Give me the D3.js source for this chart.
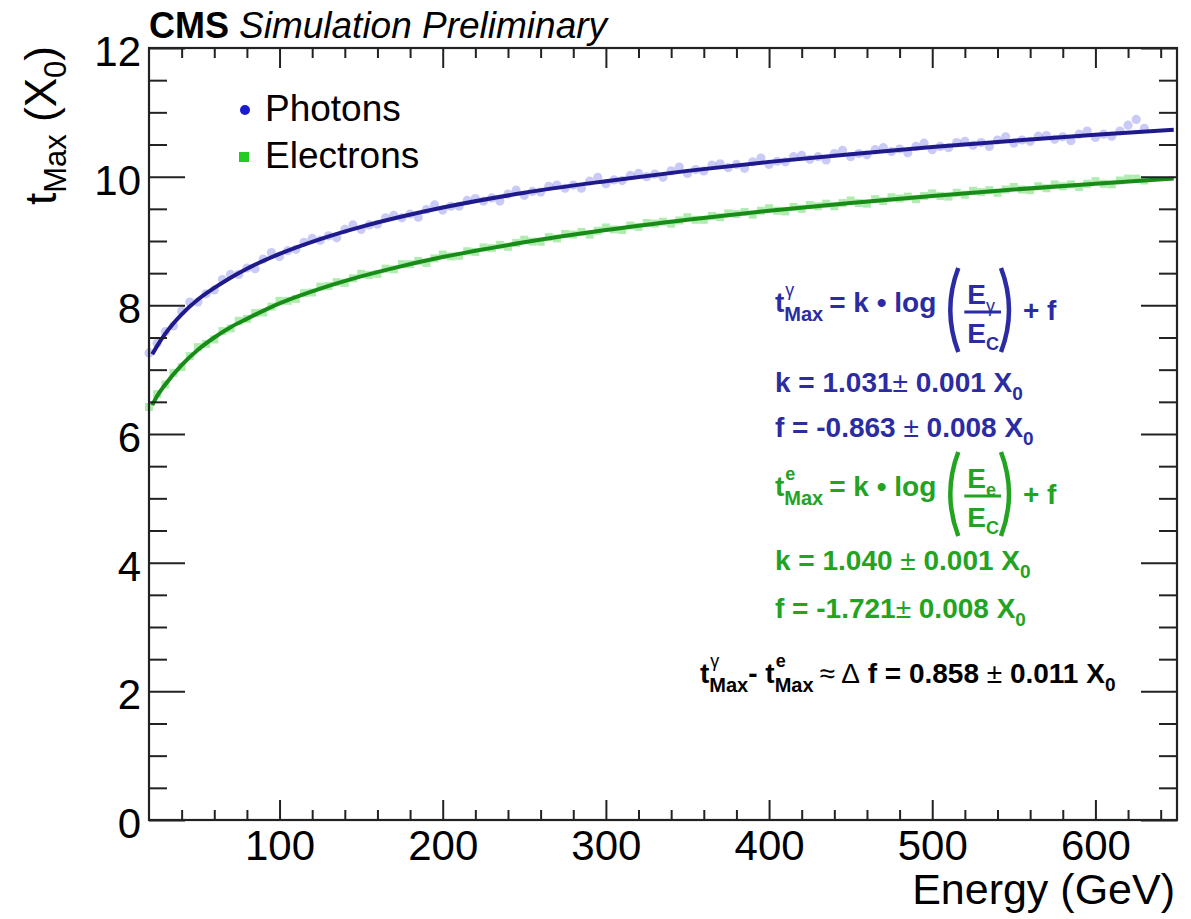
<!DOCTYPE html>
<html>
<head>
<meta charset="utf-8">
<script src="https://cdn.jsdelivr.net/npm/d3@7"></script>
<style>
  body { margin: 0; background: #fff; }
  text { font-family: "Liberation Sans", Arial, Helvetica, sans-serif; white-space: pre; }
</style>
</head>
<body>
<script>
var W = 1191, H = 919;

// Energies of the simulated points (GeV)
var energies = [20,25,30,35,40,45,50,55,60,65,70,75,80,85,90,95,100,105,110,115,
  120,125,130,135,140,145,150,155,160,165,170,175,180,185,190,195,200,205,210,215,
  220,225,230,235,240,245,250,255,260,265,270,275,280,285,290,295,300,305,310,315,
  320,325,330,335,340,345,350,355,360,365,370,375,380,385,390,395,400,405,410,415,
  420,425,430,435,440,445,450,455,460,465,470,475,480,485,490,495,500,505,510,515,
  520,525,530,535,540,545,550,555,560,565,570,575,580,585,590,595,600,605,610,615,
  620,625,630];

// tMax of photons (X0)
var photonPts = [7.26,7.41,7.59,7.68,7.91,8.05,8.05,8.18,8.24,8.40,8.48,8.48,8.58,8.57,8.72,8.82,8.76,8.85,8.87,8.98,
  9.04,9.01,9.08,9.05,9.18,9.25,9.18,9.25,9.26,9.36,9.40,9.36,9.42,9.37,9.49,9.56,9.48,9.54,9.54,9.63,
  9.66,9.62,9.67,9.62,9.73,9.79,9.71,9.77,9.76,9.85,9.87,9.82,9.87,9.82,9.93,9.99,9.89,9.95,9.94,10.02,
  10.05,10.00,10.04,9.99,10.09,10.15,10.05,10.11,10.09,10.18,10.20,10.14,10.19,10.13,10.23,10.29,10.19,10.24,10.23,10.31,
  10.33,10.27,10.31,10.26,10.36,10.41,10.31,10.36,10.34,10.42,10.45,10.39,10.43,10.37,10.47,10.52,10.42,10.47,10.45,10.53,
  10.55,10.49,10.53,10.47,10.57,10.62,10.52,10.57,10.55,10.63,10.64,10.58,10.62,10.56,10.66,10.71,10.61,10.66,10.63,10.71,
  10.80,10.89,10.75];

// tMax of electrons (X0)
var electronPts = [6.42,6.62,6.77,6.95,7.04,7.21,7.35,7.40,7.47,7.60,7.64,7.76,7.79,7.88,7.89,7.98,8.07,8.07,8.10,8.19,
  8.20,8.29,8.30,8.36,8.35,8.42,8.49,8.47,8.49,8.57,8.56,8.64,8.64,8.69,8.66,8.73,8.79,8.76,8.77,8.84,
  8.83,8.90,8.89,8.94,8.91,8.97,9.02,8.99,8.99,9.06,9.04,9.11,9.10,9.14,9.10,9.16,9.21,9.18,9.17,9.24,
  9.22,9.28,9.27,9.30,9.27,9.32,9.37,9.33,9.33,9.39,9.37,9.43,9.42,9.45,9.41,9.47,9.51,9.47,9.46,9.53,
  9.50,9.56,9.54,9.58,9.54,9.59,9.63,9.59,9.58,9.65,9.62,9.68,9.66,9.69,9.65,9.70,9.74,9.70,9.69,9.75,
  9.72,9.78,9.76,9.79,9.75,9.80,9.84,9.80,9.79,9.85,9.82,9.88,9.85,9.88,9.84,9.89,9.93,9.89,9.88,9.94,
  9.97,9.97,9.94];

// Fit curves, sampled along the drawn lines
var fitEnergies = [22,25,30,40,50,60,70,80,100,125,150,175,200,250,300,350,400,450,500,550,600,648];
var photonFit = [7.24,7.37,7.56,7.86,8.09,8.27,8.43,8.57,8.80,9.03,9.22,9.38,9.52,9.75,9.93,10.09,10.23,10.35,10.46,10.56,10.65,10.73];
var electronFit = [6.45,6.59,6.77,7.07,7.31,7.50,7.66,7.79,8.03,8.26,8.45,8.61,8.75,8.98,9.17,9.33,9.47,9.59,9.70,9.80,9.89,9.97];

// Axis ticks
var xMajor = [100,200,300,400,500,600];
var xMinor = [40,60,80,120,140,160,180,220,240,260,280,320,340,360,380,420,440,460,480,520,540,560,580,620,640];
var yMajor = [0,2,4,6,8,10,12];
var yMinor = [0.5,1,1.5,2.5,3,3.5,4.5,5,5.5,6.5,7,7.5,8.5,9,9.5,10.5,11,11.5];

var padL = 149, padR = 1177, padT = 48, padB = 820;

var svg = d3.select("body").append("svg")
  .attr("width", W)
  .attr("height", H);

var x = d3.scaleLinear().domain([20, 650]).range([padL, padR]);
var y = d3.scaleLinear().domain([0, 12]).range([padB, padT]);

// Points
var photonColor = "#7b7be8", electronColor = "#4fd24f";

svg.append("g").selectAll("circle")
  .data(energies)
  .enter()
  .append("circle")
    .attr("cx", function(d) { return x(d); })
    .attr("cy", function(d, i) { return y(photonPts[i]); })
    .attr("r", 4.6)
    .attr("fill", photonColor)
    .attr("opacity", 0.4);

svg.append("g").selectAll("rect")
  .data(energies)
  .enter()
  .append("rect")
    .attr("x", function(d) { return x(d) - 4; })
    .attr("y", function(d, i) { return y(electronPts[i]) - 4; })
    .attr("width", 8)
    .attr("height", 8)
    .attr("fill", electronColor)
    .attr("opacity", 0.45);

// Fit lines
var line = function(vals) {
  return d3.line()
    .x(function(d) { return x(d); })
    .y(function(d, i) { return y(vals[i]); })
    .curve(d3.curveMonotoneX)(fitEnergies);
};
svg.append("path").attr("d", line(photonFit))
  .attr("fill", "none").attr("stroke", "#1e1a8c").attr("stroke-width", 4);
svg.append("path").attr("d", line(electronFit))
  .attr("fill", "none").attr("stroke", "#178c17").attr("stroke-width", 4);

// Axes (ticks pointing inside the frame)
var tickStyle = function(g) {
  g.select(".domain").remove();
  g.selectAll(".tick line").attr("stroke", "#222").attr("stroke-width", 2);
  g.selectAll(".tick text").attr("fill", "#000")
    .style("font-family", "'Liberation Sans', Arial, sans-serif").attr("font-size", 42);
};

svg.append("g").attr("transform", "translate(0," + padB + ")")
  .call(d3.axisBottom(x).tickValues(xMajor).tickSizeInner(-20).tickSizeOuter(0).tickPadding(10))
  .call(tickStyle);
svg.append("g").attr("transform", "translate(0," + padB + ")")
  .call(d3.axisBottom(x).tickValues(xMinor).tickSizeInner(-10).tickSizeOuter(0).tickFormat(""))
  .call(tickStyle);
svg.append("g").attr("transform", "translate(0," + padT + ")")
  .call(d3.axisTop(x).tickValues(xMajor).tickSizeInner(-20).tickSizeOuter(0).tickFormat(""))
  .call(tickStyle);
svg.append("g").attr("transform", "translate(0," + padT + ")")
  .call(d3.axisTop(x).tickValues(xMinor).tickSizeInner(-10).tickSizeOuter(0).tickFormat(""))
  .call(tickStyle);

svg.append("g").attr("transform", "translate(" + padL + ",0)")
  .call(d3.axisLeft(y).tickValues(yMajor).tickSizeInner(-36).tickSizeOuter(0).tickPadding(8).tickFormat(d3.format("d")))
  .call(tickStyle)
  .selectAll(".tick text").attr("dy", "0.42em");
svg.append("g").attr("transform", "translate(" + padL + ",0)")
  .call(d3.axisLeft(y).tickValues(yMinor).tickSizeInner(-18).tickSizeOuter(0).tickFormat(""))
  .call(tickStyle);
svg.append("g").attr("transform", "translate(" + padR + ",0)")
  .call(d3.axisRight(y).tickValues(yMajor).tickSizeInner(-36).tickSizeOuter(0).tickFormat(""))
  .call(tickStyle);
svg.append("g").attr("transform", "translate(" + padR + ",0)")
  .call(d3.axisRight(y).tickValues(yMinor).tickSizeInner(-18).tickSizeOuter(0).tickFormat(""))
  .call(tickStyle);

// Frame
svg.append("rect")
  .attr("x", padL).attr("y", padT)
  .attr("width", padR - padL).attr("height", padB - padT)
  .attr("fill", "none").attr("stroke", "#222").attr("stroke-width", 2.2);

// Axis titles
svg.append("text")
  .attr("x", padR - 2).attr("y", 904)
  .attr("text-anchor", "end").attr("font-size", 43)
  .text("Energy (GeV)");

var yt = svg.append("text")
  .attr("transform", "translate(56," + (padT - 2) + ") rotate(-90)")
  .attr("text-anchor", "end").attr("font-size", 44);
yt.append("tspan").text("t");
yt.append("tspan").attr("font-size", 31).attr("dy", 10).text("Max");
yt.append("tspan").attr("dy", -10).text(" (X");
yt.append("tspan").attr("font-size", 31).attr("dy", 10).text("0");
yt.append("tspan").attr("dy", -10).text(")");

// Header
var hd = svg.append("text").attr("x", padL).attr("y", 38).attr("font-size", 37);
hd.append("tspan").attr("font-weight", "bold").attr("font-size", 36).text("CMS ");
hd.append("tspan").attr("font-style", "italic").text("Simulation Preliminary");

// Legend
svg.append("circle").attr("cx", 245).attr("cy", 110).attr("r", 5).attr("fill", "#1a1ad0");
svg.append("text").attr("x", 265).attr("y", 121).attr("font-size", 37).text("Photons");
svg.append("rect").attr("x", 239).attr("y", 152).attr("width", 10).attr("height", 10).attr("fill", "#22cc22");
svg.append("text").attr("x", 265).attr("y", 168).attr("font-size", 37).text("Electrons");

// Formula helpers
function piece(px, py, s, size, color, weight) {
  var t = svg.append("text")
    .attr("x", px).attr("y", py)
    .attr("font-size", size)
    .attr("font-weight", weight || "bold")
    .attr("fill", color)
    .text(s);
  return px + t.node().getComputedTextLength();
}

function tMax(px, py, sup, color) {
  var x1 = piece(px, py, "t", 28, color);
  var a = piece(x1 + 1, py - 16, sup, 18, color, sup == "e" ? "bold" : "normal");
  var b = piece(x1, py + 9, "Max", 20, color);
  return Math.max(a, b);
}

function withX0(px, py, s, color) {
  var x1 = piece(px, py, s, 28, color);
  var x2 = piece(x1, py, "X", 28, color);
  return piece(x2, py + 8, "0", 19, color);
}

function paren(px, py, dir, color) {
  // dir = 1 opening, -1 closing
  var h = 42, bow = 12;
  var p = d3.path();
  p.moveTo(px + dir * bow, py - h);
  p.quadraticCurveTo(px - dir * 4, py, px + dir * bow, py + h);
  svg.append("path").attr("d", p.toString())
    .attr("fill", "none").attr("stroke", color).attr("stroke-width", 4.5);
}

function formula(px, py, sub, color) {
  var xx = tMax(px, py, sub, color);
  xx = piece(xx + 6, py, "= k \u2022 log", 28, color);
  var p0 = xx + 10;
  paren(p0, py - 2, 1, color);
  // fraction
  var fx = p0 + 18;
  var e1 = piece(fx + 3, py - 8, "E", 28, color);
  var e2 = piece(e1, py, sub, 18, color, sub == "e" ? "bold" : "normal");
  var c1 = piece(fx + 3, py + 31, "E", 28, color);
  var c2 = piece(c1, py + 38, "C", 18, color);
  var fw = Math.max(e2, c2) + 2;
  svg.append("line").attr("x1", fx).attr("x2", fw)
    .attr("y1", py).attr("y2", py)
    .attr("stroke", color).attr("stroke-width", 3);
  paren(fw + 12, py - 2, -1, color);
  piece(fw + 22, py + 8, "+ f", 28, color);
}

var blue = "#2b2ba3", green = "#22a322";

formula(775, 312, "\u03b3", blue);
var k1 = piece(775, 392, "k = 1.031", 28, blue);
k1 = piece(k1, 392, "\u00b1", 28, blue, "normal");
withX0(k1, 392, " 0.001 ", blue);
var f1 = piece(775, 437, "f = -0.863 ", 28, blue);
f1 = piece(f1, 437, "\u00b1", 28, blue, "normal");
withX0(f1, 437, " 0.008 ", blue);

formula(775, 496, "e", green);
var k2 = piece(775, 570, "k = 1.040 ", 28, green);
k2 = piece(k2, 570, "\u00b1", 28, green, "normal");
withX0(k2, 570, " 0.001 ", green);
var f2 = piece(775, 618, "f = -1.721", 28, green);
f2 = piece(f2, 618, "\u00b1", 28, green, "normal");
withX0(f2, 618, " 0.008 ", green);

// Difference line
var dx = tMax(700, 683, "\u03b3", "#000");
dx = piece(dx, 683, "- ", 28, "#000");
dx = tMax(dx, 683, "e", "#000");
dx = piece(dx + 6, 683, "\u2248 \u0394", 28, "#000", "normal");
dx = piece(dx, 683, " f = 0.858 ", 28, "#000");
dx = piece(dx, 683, "\u00b1", 28, "#000", "normal");
withX0(dx, 683, " 0.011 ", "#000");
</script>
</body>
</html>
